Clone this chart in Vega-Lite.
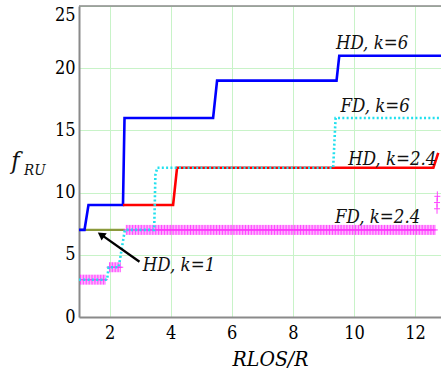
{
  "$schema": "https://vega.github.io/schema/vega-lite/v6.json",
  "width": 362,
  "height": 311,
  "autosize": {"type": "none"},
  "padding": {"left": 79, "top": 6, "right": 0, "bottom": 55},
  "background": "white",
  "config": {
    "view": {"stroke": null},
    "axis": {
      "labelFont": "DejaVu Serif Condensed, DejaVu Serif",
      "titleFont": "DejaVu Serif Condensed, DejaVu Serif",
      "labelFontSize": 18,
      "labelColor": "black",
      "ticks": false,
      "grid": true,
      "gridColor": "#c8f3c8",
      "gridWidth": 1,
      "domainColor": "#8a8a8a",
      "domainWidth": 2
    }
  },
  "datasets": {
    "blue": [{"x":1,"y":7},{"x":1.18,"y":7},{"x":1.31,"y":9},{"x":2.44,"y":9},{"x":2.49,"y":16},{"x":5.39,"y":16},{"x":5.52,"y":19},{"x":9.43,"y":19},{"x":9.52,"y":21},{"x":12.85,"y":21}],
    "red": [{"x":2.44,"y":9},{"x":4.08,"y":9},{"x":4.21,"y":12},{"x":12.6,"y":12},{"x":12.76,"y":13.2}],
    "cyan": [{"x":1,"y":3},{"x":1.92,"y":3},{"x":1.97,"y":4},{"x":2.3,"y":4},{"x":2.5,"y":7},{"x":3.46,"y":7},{"x":3.48,"y":9},{"x":3.5,"y":11.4},{"x":3.56,"y":12},{"x":9.32,"y":12},{"x":9.4,"y":16},{"x":12.85,"y":16}],
    "olive": [{"x":1,"y":7},{"x":2.5,"y":7}],
    "magenta": [
      {"x":1.05,"y":3},{"x":1.1,"y":3},{"x":1.15,"y":3},{"x":1.2,"y":3},{"x":1.25,"y":3},{"x":1.3,"y":3},{"x":1.35,"y":3},{"x":1.4,"y":3},{"x":1.45,"y":3},{"x":1.5,"y":3},{"x":1.55,"y":3},{"x":1.6,"y":3},{"x":1.65,"y":3},{"x":1.7,"y":3},{"x":1.75,"y":3},{"x":1.8,"y":3},{"x":1.85,"y":3},
      {"x":2.0,"y":4},{"x":2.05,"y":4},{"x":2.1,"y":4},{"x":2.15,"y":4},{"x":2.2,"y":4},{"x":2.25,"y":4},{"x":2.3,"y":4},{"x":2.35,"y":4},
      {"x":2.55,"y":7},{"x":2.6,"y":7},{"x":2.65,"y":7},{"x":2.7,"y":7},{"x":2.75,"y":7},{"x":2.8,"y":7},{"x":2.85,"y":7},{"x":2.9,"y":7},{"x":2.95,"y":7},
      {"x":3.0,"y":7},{"x":3.05,"y":7},{"x":3.1,"y":7},{"x":3.15,"y":7},{"x":3.2,"y":7},{"x":3.25,"y":7},{"x":3.3,"y":7},{"x":3.35,"y":7},{"x":3.4,"y":7},{"x":3.45,"y":7},{"x":3.5,"y":7},{"x":3.55,"y":7},{"x":3.6,"y":7},{"x":3.65,"y":7},{"x":3.7,"y":7},{"x":3.75,"y":7},{"x":3.8,"y":7},{"x":3.85,"y":7},{"x":3.9,"y":7},{"x":3.95,"y":7},
      {"x":4.0,"y":7},{"x":4.05,"y":7},{"x":4.1,"y":7},{"x":4.15,"y":7},{"x":4.2,"y":7},{"x":4.25,"y":7},{"x":4.3,"y":7},{"x":4.35,"y":7},{"x":4.4,"y":7},{"x":4.45,"y":7},{"x":4.5,"y":7},{"x":4.55,"y":7},{"x":4.6,"y":7},{"x":4.65,"y":7},{"x":4.7,"y":7},{"x":4.75,"y":7},{"x":4.8,"y":7},{"x":4.85,"y":7},{"x":4.9,"y":7},{"x":4.95,"y":7},
      {"x":5.0,"y":7},{"x":5.05,"y":7},{"x":5.1,"y":7},{"x":5.15,"y":7},{"x":5.2,"y":7},{"x":5.25,"y":7},{"x":5.3,"y":7},{"x":5.35,"y":7},{"x":5.4,"y":7},{"x":5.45,"y":7},{"x":5.5,"y":7},{"x":5.55,"y":7},{"x":5.6,"y":7},{"x":5.65,"y":7},{"x":5.7,"y":7},{"x":5.75,"y":7},{"x":5.8,"y":7},{"x":5.85,"y":7},{"x":5.9,"y":7},{"x":5.95,"y":7},
      {"x":6.0,"y":7},{"x":6.05,"y":7},{"x":6.1,"y":7},{"x":6.15,"y":7},{"x":6.2,"y":7},{"x":6.25,"y":7},{"x":6.3,"y":7},{"x":6.35,"y":7},{"x":6.4,"y":7},{"x":6.45,"y":7},{"x":6.5,"y":7},{"x":6.55,"y":7},{"x":6.6,"y":7},{"x":6.65,"y":7},{"x":6.7,"y":7},{"x":6.75,"y":7},{"x":6.8,"y":7},{"x":6.85,"y":7},{"x":6.9,"y":7},{"x":6.95,"y":7},
      {"x":7.0,"y":7},{"x":7.05,"y":7},{"x":7.1,"y":7},{"x":7.15,"y":7},{"x":7.2,"y":7},{"x":7.25,"y":7},{"x":7.3,"y":7},{"x":7.35,"y":7},{"x":7.4,"y":7},{"x":7.45,"y":7},{"x":7.5,"y":7},{"x":7.55,"y":7},{"x":7.6,"y":7},{"x":7.65,"y":7},{"x":7.7,"y":7},{"x":7.75,"y":7},{"x":7.8,"y":7},{"x":7.85,"y":7},{"x":7.9,"y":7},{"x":7.95,"y":7},
      {"x":8.0,"y":7},{"x":8.05,"y":7},{"x":8.1,"y":7},{"x":8.15,"y":7},{"x":8.2,"y":7},{"x":8.25,"y":7},{"x":8.3,"y":7},{"x":8.35,"y":7},{"x":8.4,"y":7},{"x":8.45,"y":7},{"x":8.5,"y":7},{"x":8.55,"y":7},{"x":8.6,"y":7},{"x":8.65,"y":7},{"x":8.7,"y":7},{"x":8.75,"y":7},{"x":8.8,"y":7},{"x":8.85,"y":7},{"x":8.9,"y":7},{"x":8.95,"y":7},
      {"x":9.0,"y":7},{"x":9.05,"y":7},{"x":9.1,"y":7},{"x":9.15,"y":7},{"x":9.2,"y":7},{"x":9.25,"y":7},{"x":9.3,"y":7},{"x":9.35,"y":7},{"x":9.4,"y":7},{"x":9.45,"y":7},{"x":9.5,"y":7},{"x":9.55,"y":7},{"x":9.6,"y":7},{"x":9.65,"y":7},{"x":9.7,"y":7},{"x":9.75,"y":7},{"x":9.8,"y":7},{"x":9.85,"y":7},{"x":9.9,"y":7},{"x":9.95,"y":7},
      {"x":10.0,"y":7},{"x":10.05,"y":7},{"x":10.1,"y":7},{"x":10.15,"y":7},{"x":10.2,"y":7},{"x":10.25,"y":7},{"x":10.3,"y":7},{"x":10.35,"y":7},{"x":10.4,"y":7},{"x":10.45,"y":7},{"x":10.5,"y":7},{"x":10.55,"y":7},{"x":10.6,"y":7},{"x":10.65,"y":7},{"x":10.7,"y":7},{"x":10.75,"y":7},{"x":10.8,"y":7},{"x":10.85,"y":7},{"x":10.9,"y":7},{"x":10.95,"y":7},
      {"x":11.0,"y":7},{"x":11.05,"y":7},{"x":11.1,"y":7},{"x":11.15,"y":7},{"x":11.2,"y":7},{"x":11.25,"y":7},{"x":11.3,"y":7},{"x":11.35,"y":7},{"x":11.4,"y":7},{"x":11.45,"y":7},{"x":11.5,"y":7},{"x":11.55,"y":7},{"x":11.6,"y":7},{"x":11.65,"y":7},{"x":11.7,"y":7},{"x":11.75,"y":7},{"x":11.8,"y":7},{"x":11.85,"y":7},{"x":11.9,"y":7},{"x":11.95,"y":7},
      {"x":12.0,"y":7},{"x":12.05,"y":7},{"x":12.1,"y":7},{"x":12.15,"y":7},{"x":12.2,"y":7},{"x":12.25,"y":7},{"x":12.3,"y":7},{"x":12.35,"y":7},{"x":12.4,"y":7},{"x":12.45,"y":7},{"x":12.5,"y":7},{"x":12.55,"y":7},{"x":12.6,"y":7},{"x":12.65,"y":7},
      {"x":12.72,"y":8.7},{"x":12.72,"y":9.2},{"x":12.73,"y":9.7}
    ],
    "labels": [
      {"t":"HD, k=6","x":9.41,"y":21.52},
      {"t":"FD, k=6","x":9.56,"y":16.5},
      {"t":"HD, k=2.4","x":9.81,"y":12.2},
      {"t":"FD, k=2.4","x":9.38,"y":7.53},
      {"t":"HD, k=1","x":3.09,"y":3.72}
    ],
    "arrow": [{"x":2.98,"y":4.44,"x2":1.76,"y2":6.56}],
    "head": [{"x":1.72,"y":6.62}],
    "ytitle": [{"t":"f","x":-1.22,"y":11.9,"s":"big"},{"t":"RU","x":-0.8,"y":11.4,"s":"small"}],
    "frame": [{"x":1,"x2":12.85,"y":25}]
  },
  "encoding": {
    "x": {"field": "x", "type": "quantitative", "scale": {"domain": [1, 12.85], "nice": false, "zero": false},
      "axis": {"values": [2,4,6,8,10,12], "labelPadding": 7, "title": "RLOS/R", "titleFontStyle": "italic", "titleFontWeight": "normal", "titleFontSize": 21, "titleColor": "black", "titleX": 191, "titleY": 48, "titleAlign": "center", "titleBaseline": "alphabetic"}},
    "y": {"field": "y", "type": "quantitative", "scale": {"domain": [0, 25], "nice": false},
      "axis": {"values": [0,5,10,15,20,25], "labelPadding": 4, "title": null,
        "labelBaseline": {"condition": {"test": "datum.value == 25", "value": "top"}, "value": "middle"}}}
  },
  "layer": [
    {
      "data": {"name": "olive"},
      "mark": {"type": "line", "color": "#8c9a3c", "strokeWidth": 2.2, "clip": true}
    },
    {
      "data": {"name": "blue"},
      "mark": {"type": "line", "color": "#0000ff", "strokeWidth": 2.6, "clip": true}
    },
    {
      "data": {"name": "red"},
      "mark": {"type": "line", "color": "#ff0000", "strokeWidth": 2.6, "clip": true}
    },
    {
      "data": {"name": "magenta"},
      "mark": {"type": "point", "shape": "M-0.6,0H0.6M0,-1V1", "size": 100, "filled": false, "stroke": "#ff33ff", "strokeWidth": 0.9, "opacity": 1, "clip": true}
    },
    {
      "data": {"name": "cyan"},
      "mark": {"type": "line", "color": "#22e0ee", "strokeWidth": 2.6, "strokeDash": [2, 2.3], "clip": true}
    },
    {
      "data": {"name": "arrow"},
      "mark": {"type": "rule", "color": "black", "strokeWidth": 2.4},
      "encoding": {"x2": {"field": "x2"}, "y2": {"field": "y2"}}
    },
    {
      "data": {"name": "head"},
      "mark": {"type": "point", "shape": "triangle-up", "size": 80, "filled": true, "color": "black", "opacity": 1, "angle": 305}
    },
    {
      "data": {"name": "labels"},
      "mark": {"type": "text", "font": "DejaVu Serif Condensed, DejaVu Serif", "fontStyle": "italic", "fontSize": 18.5, "align": "left", "baseline": "alphabetic", "color": "#111111"},
      "encoding": {"text": {"field": "t"}}
    },
    {
      "data": {"name": "ytitle"},
      "mark": {"type": "text", "font": "DejaVu Serif Condensed, DejaVu Serif", "fontStyle": "italic", "align": "left", "baseline": "alphabetic", "color": "#111111"},
      "encoding": {"text": {"field": "t"},
        "size": {"field": "s", "type": "nominal", "scale": {"domain": ["big","small"], "range": [25, 15]}, "legend": null}}
    },
    {
      "data": {"name": "frame"},
      "mark": {"type": "rule", "color": "#8a8a8a", "strokeWidth": 1.5},
      "encoding": {"x2": {"field": "x2"}}
    }
  ]
}
